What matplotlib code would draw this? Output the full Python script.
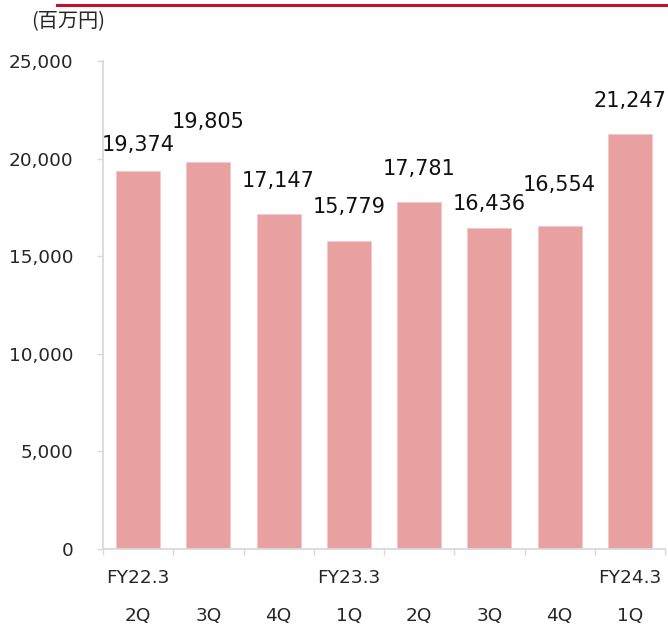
import matplotlib
matplotlib.use('Agg')
import matplotlib.pyplot as plt
from matplotlib.ticker import FuncFormatter

# quarterly values (百万円)
quarters = ['2Q', '3Q', '4Q', '1Q', '2Q', '3Q', '4Q', '1Q']
fiscal_years = ['FY22.3', '', '', 'FY23.3', '', '', '', 'FY24.3']
values = [19374, 19805, 17147, 15779, 17781, 16436, 16554, 21247]

# gap above each bar for the value label, in pixels (labels were hand-placed)
label_gap = [20, 34, 27, 28, 27, 18, 35, 27]

bar_color = '#E8A1A0'
grid_gray = '#d9d9d9'
text_color = '#262626'

plt.rcParams['font.family'] = ['DejaVu Sans', 'Noto Sans CJK JP']

fig = plt.figure(figsize=(6.68, 6.28), dpi=100)
ax = fig.add_axes([103 / 668, 79 / 628, 562 / 668, 488 / 628])

x = list(range(len(values)))
ax.bar(x, values, width=0.626, color=bar_color, edgecolor='#f3c9c8', linewidth=0.6, zorder=2)

ax.set_xlim(-0.5, len(values) - 0.5)
ax.set_ylim(0, 25000)
ax.set_yticks(range(0, 25001, 5000))
ax.yaxis.set_major_formatter(FuncFormatter(lambda v, p: '{:,.0f}'.format(v)))

for s in ['top', 'right']:
    ax.spines[s].set_visible(False)
for s in ['left', 'bottom']:
    ax.spines[s].set_color(grid_gray)
    ax.spines[s].set_linewidth(1.3)

ax.tick_params(axis='y', length=4.5, width=1.0, color=grid_gray, pad=17,
               labelsize=13.3, labelcolor=text_color)

# category boundaries as ticks, labels drawn separately
ax.set_xticks([i - 0.5 for i in range(len(values) + 1)])
ax.set_xticklabels([])
ax.tick_params(axis='x', length=4.5, width=1.0, color=grid_gray)

for i, (q, fy) in enumerate(zip(quarters, fiscal_years)):
    if fy:
        ax.annotate(fy, xy=(i, 0), xycoords=('data', 'axes fraction'),
                    xytext=(0, -29 * 0.72), textcoords='offset points',
                    ha='center', va='center', fontsize=13.3, color=text_color)
    ax.annotate(q, xy=(i, 0), xycoords=('data', 'axes fraction'),
                xytext=(0, -67 * 0.72), textcoords='offset points',
                ha='center', va='center', fontsize=13.3, color=text_color)

for i, v in enumerate(values):
    ax.annotate('{:,}'.format(v), xy=(i, v), xytext=(0, label_gap[i] * 0.72),
                textcoords='offset points', ha='center', va='baseline',
                fontsize=15, color='#111111')

# unit label and red rule at the top
fig.text(31 / 668, 1 - 22 / 628, '(百万円)', ha='left', va='center',
         fontsize=14.5, color=text_color,
         family=['Noto Sans CJK JP', 'DejaVu Sans'])
fig.add_artist(plt.Line2D([57 / 668, 1.0], [1 - 4.5 / 628, 1 - 4.5 / 628],
                          color='#c8102e', linewidth=2.2))

fig.savefig('out.png', dpi=100)
